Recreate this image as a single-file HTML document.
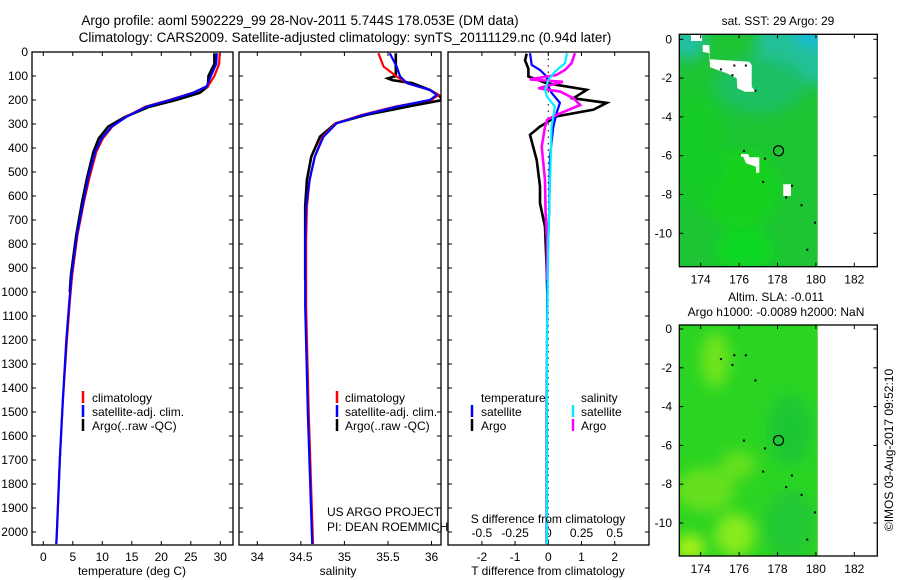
<!DOCTYPE html>
<html><head><meta charset="utf-8"><style>
html,body{margin:0;padding:0;background:#fff;}
svg{display:block;font-family:"Liberation Sans",sans-serif;}
text{fill:#000;}
</style></head><body>
<svg id="fig" width="900" height="580" viewBox="0 0 900 580">
<defs>
<clipPath id="c1"><rect x="32" y="52" width="201" height="493"/></clipPath>
<clipPath id="c2"><rect x="239" y="52" width="202" height="493"/></clipPath>
<clipPath id="c3"><rect x="448" y="52" width="201" height="493"/></clipPath>
<clipPath id="m1c"><rect x="679.3" y="34.3" width="138.4" height="232.4"/></clipPath>
<clipPath id="m2c"><rect x="679.3" y="325" width="138.4" height="231"/></clipPath>
<filter id="bl" x="-50%" y="-50%" width="200%" height="200%"><feGaussianBlur stdDeviation="7"/></filter>
</defs>
<text x="300" y="25" font-size="13.5" text-anchor="middle">Argo profile: aoml 5902229_99 28-Nov-2011 5.744S 178.053E (DM data)</text>
<text x="345" y="42" font-size="13.5" text-anchor="middle">Climatology: CARS2009. Satellite-adjusted climatology: synTS_20111129.nc (0.94d later)</text>
<g id="panels"></g>
<g id="maps"></g>
</svg>
<script>
// ---- Temperature panel data ----
const tempDepth = [5,50,100,143,170,200,228,270,311,360,415,526,623,762,928,1040,1200,1455,1700,2000,2050];
const tempClim = [29.9,29.8,29.0,27.9,25.3,21.3,17.3,14.0,11.7,10.1,9.0,7.8,6.9,5.8,4.9,4.5,4.0,3.3,2.8,2.3,2.2];
const tempSat = [29.4,29.3,28.4,27.7,25.4,21.5,17.5,14.1,11.6,9.9,8.8,7.6,6.8,5.7,4.8,4.4,3.9,3.3,2.8,2.3,2.2];
const tempArgoDepth = [5,50,100,143,170,200,228,270,311,360,415,526,623,762,928,1000];
const tempArgo = [29.0,29.0,28.0,27.9,26.5,22.5,18.0,13.9,11.0,9.4,8.5,7.4,6.6,5.6,4.7,4.5];
// ---- Salinity panel data ----
const salDepth = [5,61,102,130,158,179,200,228,262,297,353,436,533,644,783,1061,1500,2050];
const salClim = [35.39,35.45,35.6,35.72,35.98,36.08,36.0,35.58,35.2,34.9,34.75,34.66,34.6,34.57,34.56,34.56,34.59,34.64];
const salSat = [35.52,35.6,35.64,35.72,35.98,36.06,35.98,35.6,35.22,34.91,34.76,34.66,34.6,34.56,34.55,34.55,34.58,34.63];
const salArgoDepth = [5,100,110,117,130,158,179,200,228,262,297,353,436,533,644,783,950];
const salArgo = [35.59,35.59,35.5,35.55,35.78,35.98,36.08,36.13,35.72,35.25,34.9,34.72,34.62,34.57,34.55,34.55,34.55];
// ---- Difference panel data ----
const tdSatDepth = [5,54,75,102,143,170,212,254,312,436,644,925,1500,2050];
const tdSat = [-0.55,-0.5,-0.25,-0.05,0,0.1,0.35,0.25,0.15,0.05,0.03,-0.03,-0.05,-0.05];
const tdArgoDepth = [7,35,70,102,130,158,193,212,240,268,311,345,450,560,630,728,895,1000];
const tdArgo = [-0.65,-0.7,-0.6,-0.6,-0.05,1.16,0.75,1.76,1.36,0.25,-0.25,-0.55,-0.35,-0.25,-0.25,-0.1,-0.05,-0.03];
const sdSatDepth = [5,47,82,117,158,186,228,312,506,783,1170,2050];
const sdSat = [0.14,0.125,0.05,0,-0.025,-0.01,0.05,0.025,0.015,0,-0.01,-0.01];
const sdArgoDepth = [5,47,75,96,114,124,151,165,193,221,262,283,312,395,534,672,783,950];
const sdArgo = [0.2,0.175,0.125,0.06,-0.14,0.11,-0.075,0.09,0.19,0.24,0.06,-0.01,-0.025,-0.05,-0.025,-0.02,-0.01,-0.01];
// ---- ticks ----
const depthTicks = [0,100,200,300,400,500,600,700,800,900,1000,1100,1200,1300,1400,1500,1600,1700,1800,1900,2000];
const tempTicks = [0,5,10,15,20,25,30];
const salTicks = [34,34.5,35,35.5,36];
const salTickLabels = ["34","34.5","35","35.5","36"];
const tdTicks = [-2,-1,0,1,2];
const sdTicks = [-0.5,-0.25,0,0.25,0.5];
const lonTicks = [174,176,178,180,182];
const latTicks = [0,-2,-4,-6,-8,-10];
const argoLon = 178.053, argoLat = -5.744;

const NS='http://www.w3.org/2000/svg';
const BOT=545;
function mk(tag,attrs,parent){const e=document.createElementNS(NS,tag);for(const k in attrs)e.setAttribute(k,attrs[k]);if(parent)parent.appendChild(e);return e;}
const yD = d => 52 + d*0.24;
const xT = t => 43.3 + t*5.9;
const xS = s => 257.3 + (s-34)*87.1;
const xTD = v => 548.3 + v*33.2;
const xSD = v => 548.3 + v*132.8;

const G=document.getElementById('panels');

function panel(x0,x1,name){
  const g=mk('g',{},G);
  
  
  const r=mk('rect',{x:x0,y:52,width:x1-x0,height:BOT-52,fill:'none',stroke:'#000','stroke-width':1.3},g);
  
  
  depthTicks.forEach(d=>{
    mk('line',{x1:x0,x2:x0+4,y1:yD(d),y2:yD(d),stroke:'#000'},g);
    mk('line',{x1:x1-4,x2:x1,y1:yD(d),y2:yD(d),stroke:'#000'},g);
  });
  return g;
}
function series(g,depths,vals,xf,color,name,clip,w){
  const pts=depths.map((d,i)=>xf(vals[i]).toFixed(1)+','+yD(d).toFixed(1)).join(' ');
  const p=mk('polyline',{points:pts,fill:'none',stroke:color,'stroke-width':w||2.2,'stroke-linejoin':'miter','clip-path':'url(#'+clip+')'},g);
  
  
}
function xticks(g,ticks,xf,labels,y){
  ticks.forEach((t,i)=>{
    mk('line',{x1:xf(t),x2:xf(t),y1:52,y2:56,stroke:'#000'},g);
    mk('line',{x1:xf(t),x2:xf(t),y1:BOT-4,y2:BOT,stroke:'#000'},g);
    const tx=mk('text',{x:xf(t),y:y,'font-size':12,'text-anchor':'middle'},g);
    tx.textContent=labels?labels[i]:String(t);
    
    
  });
}
// Panel 1
const g1=panel(32,233,'temperature-panel');
depthTicks.forEach(d=>{const t=mk('text',{x:28,y:yD(d)+4,'font-size':12,'text-anchor':'end'},g1);t.textContent=String(d);

});
xticks(g1,tempTicks,xT,null,561);
series(g1,tempArgoDepth,tempArgo,xT,'#000','temp-argo-line','c1',2.6);
series(g1,tempDepth,tempClim,xT,'#f00','temp-clim-line','c1');
series(g1,tempDepth,tempSat,xT,'#00f','temp-sat-line','c1');
// Panel 2
const g2=panel(239,441,'salinity-panel');
xticks(g2,salTicks,xS,salTickLabels,561);
series(g2,salArgoDepth,salArgo,xS,'#000','sal-argo-line','c2',2.6);
series(g2,salDepth,salClim,xS,'#f00','sal-clim-line','c2');
series(g2,salDepth,salSat,xS,'#00f','sal-sat-line','c2');
// Panel 3
const g3=panel(448,649,'difference-panel');
tdTicks.forEach(t=>{
  mk('line',{x1:xTD(t),x2:xTD(t),y1:52,y2:56,stroke:'#000'},g3);
  mk('line',{x1:xTD(t),x2:xTD(t),y1:BOT-4,y2:BOT,stroke:'#000'},g3);
  const tx=mk('text',{x:xTD(t),y:561,'font-size':12,'text-anchor':'middle'},g3);tx.textContent=String(t);
  
  
});
sdTicks.forEach(t=>{
  const tx=mk('text',{x:xSD(t),y:537,'font-size':12,'text-anchor':'middle'},g3);tx.textContent=String(t);
  
  
});
mk('line',{x1:xTD(0),x2:xTD(0),y1:52,y2:BOT,stroke:'#000','stroke-dasharray':'1.5,5'},g3);
series(g3,tdArgoDepth,tdArgo,xTD,'#000','t-diff-argo-line','c3',2.6);
series(g3,tdSatDepth,tdSat,xTD,'#00f','t-diff-sat-line','c3');
series(g3,sdArgoDepth,sdArgo,xSD,'#f0f','s-diff-argo-line','c3',2.6);
series(g3,sdSatDepth,sdSat,xSD,'#0ef','s-diff-sat-line','c3');

// Maps
const M=document.getElementById('maps');
function mapFrame(name){
  const g=mk('g',{},M);
  
  
  return g;
}
const xL = lon => 700.7 + (lon-174)*19.2;
function decorate(g,top,bot,lat0y){
  const yL = lat => lat0y - lat*19.4;
  const fr=mk('rect',{x:679.3,y:top,width:198,height:bot-top,fill:'none',stroke:'#000','stroke-width':1.3},g);
  
  
  lonTicks.forEach(l=>{
    mk('line',{x1:xL(l),x2:xL(l),y1:top,y2:top+4,stroke:'#000'},g);
    mk('line',{x1:xL(l),x2:xL(l),y1:bot-4,y2:bot,stroke:'#000'},g);
    const t=mk('text',{x:xL(l),y:bot+17,'font-size':12,'text-anchor':'middle'},g);t.textContent=String(l);
    
    
  });
  latTicks.forEach(l=>{
    mk('line',{x1:679.3,x2:683.3,y1:yL(l),y2:yL(l),stroke:'#000'},g);
    mk('line',{x1:873.3,x2:877.3,y1:yL(l),y2:yL(l),stroke:'#000'},g);
    const t=mk('text',{x:672,y:yL(l)+4,'font-size':12,'text-anchor':'end'},g);t.textContent=String(l);
    
    
  });
  const c=mk('circle',{cx:xL(argoLon),cy:yL(argoLat),r:5,fill:'none',stroke:'#000','stroke-width':1.2},g);
  
  
  [[175.7,-1.3],[175.0,-1.5],[176.3,-1.3],[175.6,-1.8],[176.8,-2.6],[176.2,-5.7],[177.3,-6.1],[177.2,-7.3],[178.7,-7.5],[178.4,-8.1],[179.2,-8.5],[179.9,-9.4],[179.5,-10.8]].forEach(p=>{
    mk('rect',{x:xL(p[0]),y:yL(p[1]),width:2,height:2,fill:'#000'},g);
  });
}
// Map 1: SST
const gm1=mapFrame('sst-map');
const sst=mk('g',{'clip-path':'url(#m1c)'},gm1);


mk('rect',{x:679,y:34,width:139,height:233,fill:'#1ec434'},sst);
const blurG=mk('g',{filter:'url(#bl)'},sst);
mk('ellipse',{cx:805,cy:45,rx:50,ry:40,fill:'#20c098'},blurG);
mk('ellipse',{cx:815,cy:32,rx:20,ry:15,fill:'#18b8d8'},blurG);
mk('ellipse',{cx:688,cy:42,rx:18,ry:18,fill:'#20c0a0'},blurG);
mk('ellipse',{cx:760,cy:85,rx:45,ry:28,fill:'#1ec064'},blurG);
mk('ellipse',{cx:740,cy:190,rx:40,ry:40,fill:'#14d21c'},blurG);
mk('ellipse',{cx:700,cy:150,rx:25,ry:60,fill:'#18cc28'},blurG);
mk('ellipse',{cx:745,cy:250,rx:30,ry:20,fill:'#10d820'},blurG);
const wp=[[[702.7,45],[709.3,45],[710,59.3],[749.3,61.7],[751.7,65],[751.7,86.7],[756,91.7],[745,91.7],[737.3,88.3],[736.7,78.3],[726.7,73.3],[710,67.3],[709.3,53.3],[702.7,51.7]],
[[691,35],[702,35],[702,41],[691,41]],
[[741,154],[748.3,154],[749.3,157.3],[759.3,157.3],[759.3,172.7],[756,172.7],[756,166.7],[746,163.3],[743.3,156.7],[741,156.7]],
[[783.3,184.3],[791,184.3],[791,196],[783.3,196]]];
wp.forEach(poly=>{const p=mk('polygon',{points:poly.map(q=>q.join(',')).join(' '),fill:'#fff'},sst);

});
decorate(gm1,34.3,266.7,39.3);
const t1=mk('text',{x:778,y:25,'font-size':12,'text-anchor':'middle'},gm1);t1.textContent='sat. SST: 29 Argo: 29';


// Map 2: SLA
const gm2=mapFrame('sla-map');
const sla=mk('g',{'clip-path':'url(#m2c)'},gm2);


mk('rect',{x:679,y:325,width:139,height:231,fill:'#2bd423'},sla);
const b2=mk('g',{filter:'url(#bl)'},sla);
mk('ellipse',{cx:715,cy:360,rx:14,ry:28,fill:'#70e41c'},b2);
mk('ellipse',{cx:790,cy:430,rx:22,ry:35,fill:'#1ec636'},b2);
mk('ellipse',{cx:790,cy:525,rx:25,ry:35,fill:'#20c834'},b2);
mk('ellipse',{cx:705,cy:490,rx:30,ry:22,fill:'#66e01c'},b2);
mk('ellipse',{cx:738,cy:465,rx:18,ry:14,fill:'#66e01c'},b2);
mk('ellipse',{cx:735,cy:535,rx:20,ry:22,fill:'#88ea1a'},b2);
mk('ellipse',{cx:690,cy:548,rx:15,ry:14,fill:'#a8f018'},b2);
decorate(gm2,325,556,329);
const t2=mk('text',{x:776,y:301,'font-size':12,'text-anchor':'middle'},gm2);t2.textContent='Altim. SLA: -0.011';


const t3=mk('text',{x:776,y:316,'font-size':12,'text-anchor':'middle'},gm2);t3.textContent='Argo h1000: -0.0089 h2000: NaN';


</script>
<script>
const S=document.getElementById('fig');
function txt(x,y,s,name,extra){
  const t=document.createElementNS('http://www.w3.org/2000/svg','text');
  t.setAttribute('x',x);t.setAttribute('y',y);t.setAttribute('font-size',12);
  if(extra)for(const k in extra)t.setAttribute(k,extra[k]);
  t.textContent=s;
  
  
  S.appendChild(t);return t;
}
function mark(x,y,c,name){
  const l=document.createElementNS('http://www.w3.org/2000/svg','line');
  l.setAttribute('x1',x);l.setAttribute('x2',x);l.setAttribute('y1',y-11);l.setAttribute('y2',y+1);
  l.setAttribute('stroke',c);l.setAttribute('stroke-width',2.5);
  
  
  S.appendChild(l);
}
txt(132,575,'temperature (deg C)','temperature-axis-title',{'text-anchor':'middle'});
txt(338,575,'salinity','salinity-axis-title',{'text-anchor':'middle'});
txt(548,575,'T difference from climatology','t-diff-axis-title',{'text-anchor':'middle'});
txt(548,523,'S difference from climatology','s-diff-axis-title',{'text-anchor':'middle'});
txt(327,516,'US ARGO PROJECT','project-label');
txt(327,531,'PI: DEAN ROEMMICH','pi-label');
mark(83,402,'#f00','legend-clim-mark');txt(92,402,'climatology','legend-climatology');
mark(83,416,'#00f','legend-sat-mark');txt(92,416,'satellite-adj. clim.','legend-satellite');
mark(83,430,'#000','legend-argo-mark');txt(92,430,'Argo(..raw -QC)','legend-argo');
mark(337,402,'#f00','legend2-clim-mark');txt(345,402,'climatology','legend2-climatology');
mark(337,416,'#00f','legend2-sat-mark');txt(345,416,'satellite-adj. clim.','legend2-satellite');
mark(337,430,'#000','legend2-argo-mark');txt(345,430,'Argo(..raw -QC)','legend2-argo');
txt(481,402,'temperature','legend3-temperature');
txt(581,402,'salinity','legend3-salinity');
mark(472,416,'#00f','legend3-tsat-mark');txt(481,416,'satellite','legend3-t-satellite');
mark(472,430,'#000','legend3-targo-mark');txt(481,430,'Argo','legend3-t-argo');
mark(573,416,'#0ef','legend3-ssat-mark');txt(581,416,'satellite','legend3-s-satellite');
mark(573,430,'#f0f','legend3-sargo-mark');txt(581,430,'Argo','legend3-s-argo');
txt(0,0,'©IMOS 03-Aug-2017 09:52:10','imos-credit',{transform:'translate(893,450) rotate(-90)','text-anchor':'middle'});
</script>
</body></html>
